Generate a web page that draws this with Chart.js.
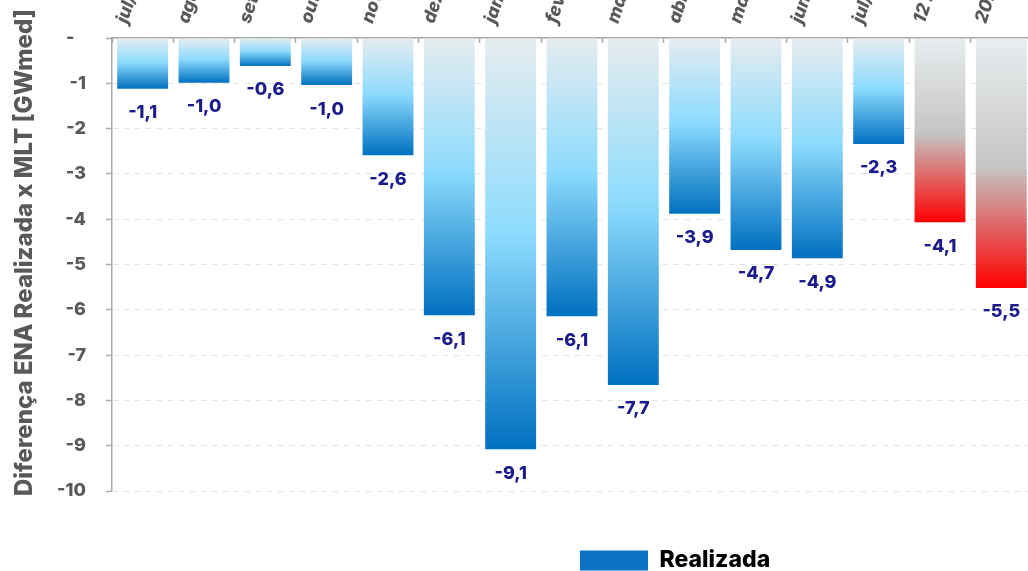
<!DOCTYPE html>
<html lang="pt-BR">
<head>
<meta charset="utf-8">
<title>Diferença ENA Realizada x MLT</title>
<script src="https://cdn.jsdelivr.net/npm/chart.js@4.4.1/dist/chart.umd.min.js"></script>
<style>
  html, body { margin: 0; padding: 0; background: #ffffff; }
  #wrap { position: relative; width: 1028px; height: 571px; overflow: hidden; }
  #grafico { position: absolute; left: 0; top: -42px; }
</style>
</head>
<body>
<div id="wrap">
  <canvas id="grafico" width="1033" height="624"></canvas>
</div>
<script>
/* ===== Dados ===== */
const monthLabels = ['jul/23', 'ago/23', 'set/23', 'out/23', 'nov/23', 'dez/23', 'jan/24',
                     'fev/24', 'mar/24', 'abr/24', 'mai/24', 'jun/24', 'jul/24'];
const summaryLabels = ['12 meses', '2024'];
const monthValues = [-1.12, -0.99, -0.62, -1.04, -2.59, -6.12, -9.08,
                     -6.14, -7.66, -3.88, -4.68, -4.86, -2.34];
const summaryValues = [-4.07, -5.52];
const yTicks = [0, -1, -2, -3, -4, -5, -6, -7, -8, -9, -10];
const seriesName = 'Realizada';
const axisTitle = 'Diferença ENA Realizada x MLT [GWmed]';

/* ===== Estilo ===== */
const FONT_FAMILY = 'Inter, "Noto Sans", Arial, sans-serif';
const TEXT_COLOR = '#595959';
const AXIS_COLOR = '#a9a9a9';
const GRID_COLOR = '#dde6ea';
const LABEL_COLOR = '#1b1b8b';
const LEGEND_BLUE = '#0a72c4';
const LEGEND_X = 580;

const labels = monthLabels.concat(summaryLabels);
const values = monthValues.concat(summaryValues);

Chart.defaults.font.family = FONT_FAMILY;
Chart.defaults.color = TEXT_COLOR;

// gradiente por barra (de 0 até o valor)
function barGradient(c) {
  const chart = c.chart;
  if (!chart.chartArea || c.type !== 'data') return LEGEND_BLUE;
  const y = chart.scales.y;
  const top = y.getPixelForValue(0);
  const bottom = y.getPixelForValue(c.raw);
  const g = chart.ctx.createLinearGradient(0, top, 0, bottom);
  if (c.dataIndex >= monthLabels.length) {
    g.addColorStop(0, '#e9edef');
    g.addColorStop(0.52, '#c4c4c4');
    g.addColorStop(1, '#ff0000');
  } else {
    g.addColorStop(0, '#e6ecef');
    g.addColorStop(0.48, '#8cdbfd');
    g.addColorStop(1, '#0070c0');
  }
  return g;
}

// rótulos de valor abaixo das barras
const valueLabels = {
  id: 'valueLabels',
  afterDatasetsDraw(chart) {
    const ctx = chart.ctx;
    const meta = chart.getDatasetMeta(0);
    ctx.save();
    ctx.font = '800 18px ' + FONT_FAMILY;
    ctx.fillStyle = LABEL_COLOR;
    ctx.textAlign = 'center';
    ctx.textBaseline = 'middle';
    meta.data.forEach((bar, i) => {
      const v = chart.data.datasets[0].data[i];
      ctx.fillText(v.toFixed(1).replace('.', ','), bar.x, bar.y + 24);
    });
    ctx.restore();
  }
};

// legenda deslocada como no gráfico original
const legendShift = {
  id: 'legendShift',
  afterLayout(chart) {
    const lg = chart.legend;
    if (!lg || !lg.lineWidths) return;
    const pad = lg.options.labels.padding;
    const itemW = lg.lineWidths[0] - pad;
    const current = (lg.left + lg.right - itemW) / 2;
    const dx = LEGEND_X - current;
    lg.left += dx;
    lg.right += dx;
  }
};

new Chart(document.getElementById('grafico'), {
  type: 'bar',
  data: {
    labels: labels,
    datasets: [{
      label: seriesName,
      data: values,
      backgroundColor: barGradient,
      borderWidth: 0,
      categoryPercentage: 1,
      barPercentage: 0.83
    }]
  },
  options: {
    responsive: false,
    animation: false,
    devicePixelRatio: 1,
    layout: { padding: 0 },
    plugins: {
      tooltip: { enabled: false },
      legend: {
        position: 'bottom',
        labels: {
          color: TEXT_COLOR,
          font: { size: 23, weight: '800' },
          boxWidth: 68,
          boxHeight: 20,
          padding: 58,
          generateLabels: () => [{
            text: seriesName,
            fillStyle: LEGEND_BLUE,
            strokeStyle: LEGEND_BLUE,
            lineWidth: 0,
            hidden: false,
            datasetIndex: 0
          }]
        }
      }
    },
    scales: {
      x: {
        position: 'top',
        afterFit: s => { s.height = 80; },
        grid: {
          offset: true,
          drawOnChartArea: false,
          drawTicks: true,
          tickLength: -5,
          tickColor: AXIS_COLOR,
          tickWidth: 1.5
        },
        border: { color: AXIS_COLOR, width: 1.5 },
        ticks: {
          autoSkip: false,
          minRotation: 72,
          maxRotation: 72,
          padding: 17,
          color: TEXT_COLOR,
          font: { size: 18, weight: '800', style: 'italic' }
        }
      },
      y: {
        min: -10,
        max: 0,
        afterFit: s => { s.width = 112; },
        afterBuildTicks: s => { s.ticks = yTicks.map(v => ({ value: v })); },
        grid: {
          color: GRID_COLOR,
          lineWidth: 1,
          tickLength: 6,
          tickColor: AXIS_COLOR,
          tickWidth: 1.5,
          tickBorderDash: []
        },
        border: { color: AXIS_COLOR, width: 1.5, dash: [6, 5] },
        ticks: {
          padding: 20,
          color: TEXT_COLOR,
          font: { size: 18, weight: '800' },
          callback: v => (v === 0 ? '-\u2007' : String(v))
        },
        title: {
          display: true,
          text: '\u2002\u2002' + axisTitle,
          color: TEXT_COLOR,
          font: { size: 24, weight: '800' },
          padding: { top: 10, bottom: 0 }
        }
      }
    }
  },
  plugins: [valueLabels, legendShift]
});
</script>
</body>
</html>
